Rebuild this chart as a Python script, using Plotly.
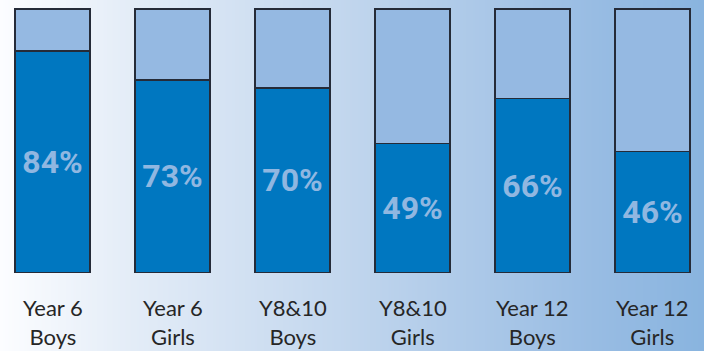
import numpy as np
import plotly.graph_objects as go

# Survey groups and the share answering "yes" (percent)
groups = ["Year 6<br>Boys", "Year 6<br>Girls", "Y8&10<br>Boys",
          "Y8&10<br>Girls", "Year 12<br>Boys", "Year 12<br>Girls"]
yes_pct = [84, 73, 70, 49, 66, 46]
rest_pct = [100 - v for v in yes_pct]

DARK = "#0077c0"
LIGHT = "#95b9e2"
EDGE = "#252b38"
LABEL = "#90b7e1"

x_idx = list(range(len(groups)))
x_range = [-0.4375, 5.429]
y_range = [-29.8, 103.4]

fig = go.Figure()

# Horizontal background wash, white on the left to soft blue on the right
ncols = 200
gx = np.linspace(x_range[0], x_range[1], ncols)
gz = np.tile(np.linspace(0, 1, ncols), (2, 1))
fig.add_trace(go.Heatmap(
    x=gx, y=[y_range[0], y_range[1]], z=gz,
    colorscale=[[0.0, "#fcfdff"], [0.163, "#e6eef8"], [0.504, "#c0d5ed"],
                [0.845, "#98bce3"], [1.0, "#89b4df"]],
    showscale=False, hoverinfo="skip", zsmooth="best",
))

fig.add_trace(go.Bar(
    x=x_idx, y=yes_pct, width=0.625,
    marker=dict(color=DARK, line=dict(color=EDGE, width=1.5)),
    text=[f"{v}%" for v in yes_pct], textposition="inside",
    insidetextanchor="middle", textangle=0, constraintext="none",
    textfont=dict(family="Roboto, sans-serif", size=32, color=LABEL, weight="bold"),
    hoverinfo="skip",
))
fig.add_trace(go.Bar(
    x=x_idx, y=rest_pct, width=0.625,
    marker=dict(color=LIGHT, line=dict(color=EDGE, width=1.5)),
    hoverinfo="skip",
))

# Two-line group names under each bar
for i, g in enumerate(groups):
    fig.add_annotation(
        x=i, y=-18.8, text=g, showarrow=False, xanchor="center", yanchor="middle",
        font=dict(family="Lato, Open Sans, sans-serif", size=22, color="#262626"),
    )

fig.update_layout(
    width=704, height=351, margin=dict(l=0, r=0, t=0, b=0),
    barmode="stack", showlegend=False,
    paper_bgcolor="#ffffff", plot_bgcolor="rgba(0,0,0,0)",
    xaxis=dict(range=x_range, visible=False, fixedrange=True),
    yaxis=dict(range=y_range, visible=False, fixedrange=True),
)

fig.write_html("out.html")
